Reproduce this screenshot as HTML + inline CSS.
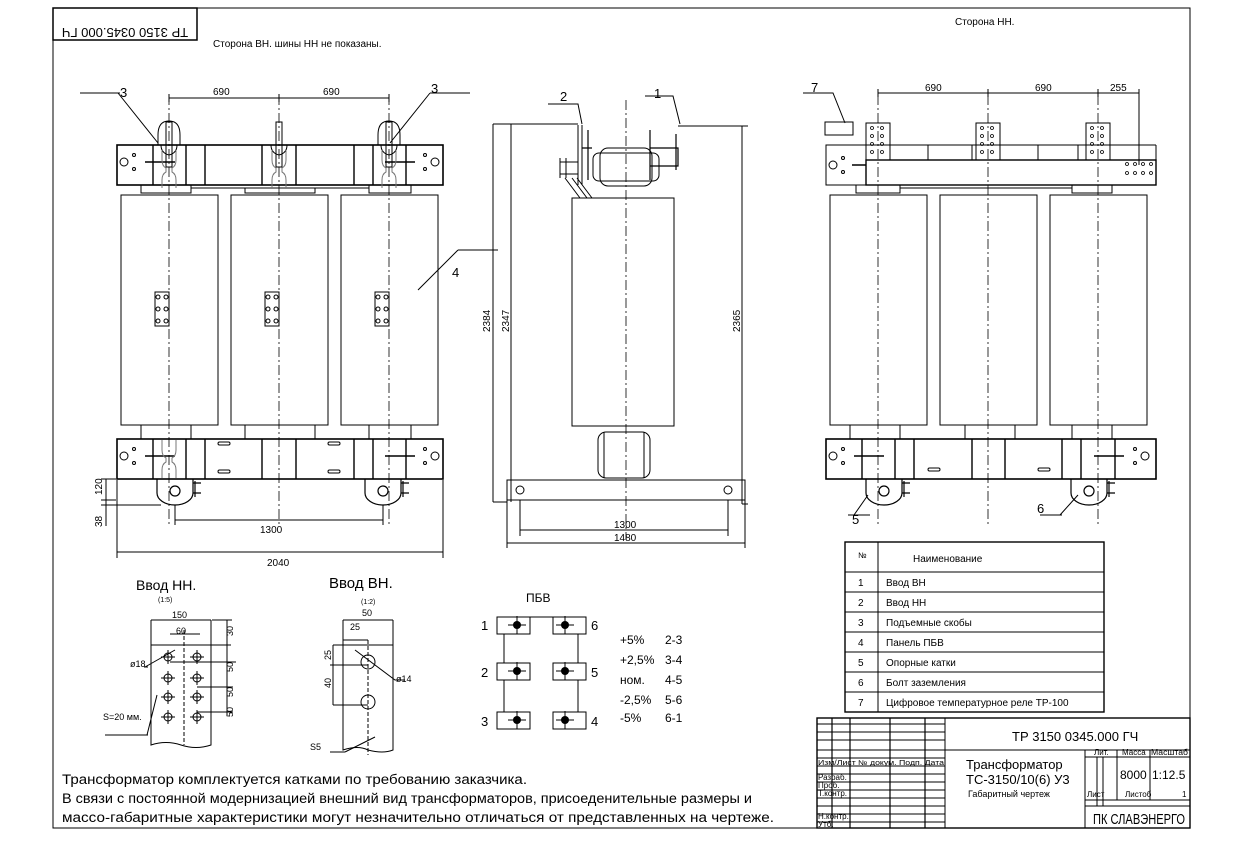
<!DOCTYPE html>
<html><head><meta charset="utf-8"><style>
html,body{margin:0;padding:0;background:#fff}
svg{display:block}
text{font-family:"Liberation Sans","DejaVu Sans",sans-serif;fill:#000}
</style></head><body>
<svg width="1238" height="858" viewBox="0 0 1238 858" xmlns="http://www.w3.org/2000/svg">
<defs>
<g id="coil"><rect x="0" y="0" width="97" height="230" fill="none" stroke="#000" stroke-width="1"/></g>
<g id="pnl">
<rect x="0" y="0" width="14" height="34" fill="none" stroke="#000" stroke-width="1"/>
<circle cx="3" cy="5" r="2" fill="none" stroke="#000"/><circle cx="11" cy="5" r="2" fill="none" stroke="#000"/>
<circle cx="3" cy="17" r="2" fill="none" stroke="#000"/><circle cx="11" cy="17" r="2" fill="none" stroke="#000"/>
<circle cx="3" cy="29" r="2" fill="none" stroke="#000"/><circle cx="11" cy="29" r="2" fill="none" stroke="#000"/>
</g>
<g id="endplate" fill="none" stroke="#000">
<circle cx="0" cy="0" r="4"/><circle cx="10" cy="-7" r="1.5"/><circle cx="10" cy="7" r="1.5"/>
</g>
<g id="endplateR" fill="none" stroke="#000">
<circle cx="0" cy="0" r="4"/><circle cx="-10" cy="-7" r="1.5"/><circle cx="-10" cy="7" r="1.5"/>
</g>
<g id="clamp" fill="none" stroke="#000">
<path d="M-7 40 v-8 q0 -6 4 -8 v-4 q-4 -2 -4 -8 v-10 M7 40 v-8 q0 -6 -4 -8 v-4 q4 -2 4 -8 v-10" stroke="#777"/>
</g>
<g id="wheel" fill="none" stroke="#000" stroke-width="1.2">
<path d="M-18 0 v14 a18 12 0 0 0 36 0 v-14"/><circle cx="0" cy="12" r="5"/><path d="M18 4 h8 M18 14 h8 M20 2 v16"/>
</g>
<g id="hole" fill="none" stroke="#000"><circle r="4"/><path d="M-7 0h14M0 -7v14"/></g>
</defs>

<rect x="53" y="8" width="1137" height="820" fill="none" stroke="#000" stroke-width="1"/>
<rect x="53" y="8" width="144" height="32" fill="none" stroke="#000" stroke-width="1.5"/>
<text x="125" y="24" font-size="13" text-anchor="middle" transform="rotate(180 125 24) translate(0 -4)">ТР 3150 0345.000 ГЧ</text>
<text x="213" y="47" font-size="10">Сторона ВН. шины НН не показаны.</text>
<text x="955" y="25" font-size="10">Сторона НН.</text>

<g stroke="#000" fill="none" stroke-width="1">
<rect x="117" y="145" width="326" height="40" stroke-width="1.6"/>
<path d="M153 145v40M186 145v40M205 145v40M262 145v40M296 145v40M354 145v40M373 145v40M406 145v40" stroke-width="1.4"/>
<path d="M141 185v8h50v-8M191 188h178M369 185v8h42v-8M245 188v5h70v-5"/>
<path d="M145 162h30M385 162h30" stroke-width="1.5"/>
<use href="#endplate" x="124" y="162"/><use href="#endplateR" x="435" y="162"/>
<path d="M158 145v-10q0-14 11-14q11 0 11 14v10M378 145v-10q0-14 11-14q11 0 11 14v10"/>
<rect x="166" y="122" width="6" height="45"/><rect x="276" y="122" width="6" height="45"/><rect x="386" y="122" width="6" height="45"/>
<path d="M161 145q0 8 8 10q8-2 8-10M271 145q0 8 8 10q8-2 8-10M381 145q0 8 8 10q8-2 8-10"/>
<use href="#clamp" x="169" y="148" /><use href="#clamp" x="279" y="148"/><use href="#clamp" x="389" y="148"/>
<use href="#coil" x="121" y="195"/><use href="#coil" x="231" y="195"/><use href="#coil" x="341" y="195"/>
<path d="M141 425v14M191 425v14M245 425v14M315 425v14M369 425v14M411 425v14"/>
<rect x="117" y="439" width="326" height="40" stroke-width="1.6"/>
<path d="M153 439v40M186 439v40M205 439v40M262 439v40M296 439v40M354 439v40M373 439v40M406 439v40" stroke-width="1.4"/>
<path d="M145 456h30M385 456h30" stroke-width="1.5"/>
<use href="#endplate" x="124" y="456"/><use href="#endplateR" x="435" y="456"/>
<rect x="218" y="442" width="12" height="3" rx="1.5"/><rect x="218" y="470" width="12" height="3" rx="1.5"/>
<rect x="328" y="442" width="12" height="3" rx="1.5"/><rect x="328" y="470" width="12" height="3" rx="1.5"/>
<use href="#clamp" x="169" y="438"/>
<use href="#pnl" x="155" y="292"/><use href="#pnl" x="265" y="292"/><use href="#pnl" x="375" y="292"/>
<use href="#wheel" x="175" y="479"/><use href="#wheel" x="383" y="479"/>
<path d="M169 95v430M279 95v430M389 95v430" stroke-dasharray="10 3 2 3" stroke-width="0.8"/>
<path d="M169 98h220M169 94v8M279 94v8M389 94v8"/>
<path d="M175 520h208M175 505v20M383 505v20"/>
<path d="M117 552h326M117 480v78M443 480v78"/>
<path d="M106 479v47M101 479h15M101 500h15M101 505h60"/>
<path d="M118 93l40 50M390 143l40-50M80 93h40M430 93h40M418 290l40-40M458 250h40"/>

<rect x="572" y="198" width="102" height="228"/>
<path d="M493 124h85M511 124h4M493 124v378M511 124v378M493 502h14M678 126h70M742 126v378M742 504h6"/>
<path d="M578 125v60M582 125v60" />
<rect x="600" y="148" width="52" height="38" rx="8"/><rect x="593" y="153" width="66" height="28" rx="6"/>
<path d="M626 100v440" stroke-dasharray="10 3 2 3" stroke-width="0.8"/>
<path d="M588 130v50M650 130v50M592 148h-10M650 148h28v18h-28M676 134v36" stroke-width="1.2"/>
<path d="M560 162h18v12h-18zM560 158v20M566 158v20"/>
<path d="M565 178l15 20M572 178l15 20M577 178l15 20"/>
<rect x="598" y="432" width="52" height="46" rx="8"/><path d="M604 432v46M644 432v46"/>
<rect x="507" y="480" width="238" height="20"/>
<circle cx="520" cy="490" r="4"/><circle cx="728" cy="490" r="4"/>
<path d="M507 500v48M745 500v48M520 530h208M507 543h238M520 500v36M728 500v36"/>
<path d="M548 104h30l4 20M645 96h28l7 28"/>

<rect x="826" y="145" width="40" height="40"/>
<rect x="866" y="160" width="290" height="25" stroke-width="1.4"/>
<path d="M866 145h290M1156 145v15M866 185h290"/>
<path d="M928 145v15M972 145v15M1038 145v15M1078 145v15"/>
<rect x="866" y="123" width="24" height="37"/><rect x="976" y="123" width="24" height="37"/><rect x="1086" y="123" width="24" height="37"/>
<g stroke-width="0.8">
<circle cx="872" cy="128" r="1.5"/><circle cx="882" cy="128" r="1.5"/><circle cx="872" cy="136" r="1.5"/><circle cx="882" cy="136" r="1.5"/><circle cx="872" cy="144" r="1.5"/><circle cx="882" cy="144" r="1.5"/><circle cx="872" cy="152" r="1.5"/><circle cx="882" cy="152" r="1.5"/>
<circle cx="982" cy="128" r="1.5"/><circle cx="992" cy="128" r="1.5"/><circle cx="982" cy="136" r="1.5"/><circle cx="992" cy="136" r="1.5"/><circle cx="982" cy="144" r="1.5"/><circle cx="992" cy="144" r="1.5"/><circle cx="982" cy="152" r="1.5"/><circle cx="992" cy="152" r="1.5"/>
<circle cx="1092" cy="128" r="1.5"/><circle cx="1102" cy="128" r="1.5"/><circle cx="1092" cy="136" r="1.5"/><circle cx="1102" cy="136" r="1.5"/><circle cx="1092" cy="144" r="1.5"/><circle cx="1102" cy="144" r="1.5"/><circle cx="1092" cy="152" r="1.5"/><circle cx="1102" cy="152" r="1.5"/>
<circle cx="1127" cy="164" r="1.5"/><circle cx="1135" cy="164" r="1.5"/><circle cx="1143" cy="164" r="1.5"/><circle cx="1151" cy="164" r="1.5"/>
<circle cx="1127" cy="173" r="1.5"/><circle cx="1135" cy="173" r="1.5"/><circle cx="1143" cy="173" r="1.5"/><circle cx="1151" cy="173" r="1.5"/>
</g>
<rect x="825" y="122" width="28" height="13"/>
<use href="#endplate" x="833" y="165"/><path d="M852 165h14" stroke-width="1.5"/>
<path d="M856 185v8h44v-8M900 188h172M1072 185v8h40v-8"/>
<use href="#coil" x="830" y="195"/><use href="#coil" x="940" y="195"/><use href="#coil" x="1050" y="195"/>
<path d="M850 425v14M900 425v14M965 425v14M1015 425v14M1072 425v14M1112 425v14"/>
<rect x="826" y="439" width="330" height="40" stroke-width="1.6"/>
<path d="M862 439v40M895 439v40M914 439v40M972 439v40M1005 439v40M1062 439v40M1081 439v40M1115 439v40" stroke-width="1.4"/>
<path d="M854 456h30M1094 456h30" stroke-width="1.5"/>
<use href="#endplate" x="833" y="456"/><use href="#endplateR" x="1145" y="456"/>
<rect x="928" y="468" width="12" height="3" rx="1.5"/><rect x="1038" y="468" width="12" height="3" rx="1.5"/>
<use href="#wheel" x="884" y="479"/><use href="#wheel" x="1089" y="479"/>
<path d="M878 95v430M988 95v430M1098 95v430" stroke-dasharray="10 3 2 3" stroke-width="0.8"/>
<path d="M878 93h220M1098 93h41M878 89v8M988 89v8M1098 89v8M1139 89v76"/>
<path d="M803 93h30l12 30M868 495l-14 20M848 515h22M1078 495l-18 20M1040 515h22"/>

<path d="M151 620h60M151 620v125q15-5 30 0q15 5 30 0v-125M151 645h80M170 634h30"/>
<path d="M184 630v115" stroke-dasharray="4 2"/>
<path d="M170 662h66M197 687h36M197 712h36M227 620v95M212 620h20"/>
<use href="#hole" x="168" y="657"/><use href="#hole" x="197" y="657"/><use href="#hole" x="168" y="678"/><use href="#hole" x="197" y="678"/><use href="#hole" x="168" y="697"/><use href="#hole" x="197" y="697"/><use href="#hole" x="168" y="717"/><use href="#hole" x="197" y="717"/>
<path d="M145 667l30-17M148 667h-4M147 735l10-40M105 735h43"/>
<path d="M343 620h50M343 620v130q15-5 25 0q15 4 25 0v-130M343 640h25"/>
<path d="M368 640v115" stroke-dasharray="4 2"/>
<path d="M333 645h60M333 645v60M330 665h38M333 705h35"/>
<circle cx="368" cy="662" r="7"/><circle cx="368" cy="702" r="7"/>
<path d="M355 650l40 30h10M345 752l30-15M330 752h15"/>

<rect x="497" y="617" width="33" height="17"/><rect x="553" y="617" width="33" height="17"/>
<rect x="497" y="663" width="33" height="17"/><rect x="553" y="663" width="33" height="17"/>
<rect x="497" y="712" width="33" height="17"/><rect x="553" y="712" width="33" height="17"/>
<path d="M504 634v29M504 680v32M578 634v29M578 680v32M530 617h23"/>
</g>
<g fill="#000">
<circle cx="517" cy="625" r="4"/><circle cx="565" cy="625" r="4"/><circle cx="517" cy="671" r="4"/><circle cx="565" cy="671" r="4"/><circle cx="517" cy="720" r="4"/><circle cx="565" cy="720" r="4"/>
</g>
<g stroke="#000" stroke-width="1"><path d="M508 625h18M517 616v18M556 625h18M565 616v18M508 671h18M517 662v18M556 671h18M565 662v18M508 720h18M517 711v18M556 720h18M565 711v18"/></g>

<g font-size="10">
<text x="213" y="95">690</text><text x="323" y="95">690</text>
<text x="120" y="97" font-size="13">3</text><text x="431" y="93" font-size="13">3</text>
<text x="452" y="277" font-size="13">4</text>
<text x="260" y="533">1300</text><text x="267" y="566">2040</text>
<text transform="translate(102 495) rotate(-90)">120</text>
<text transform="translate(102 527) rotate(-90)">38</text>
<text x="560" y="101" font-size="13">2</text><text x="654" y="98" font-size="13">1</text>
<text transform="translate(490 332) rotate(-90)">2384</text>
<text transform="translate(509 332) rotate(-90)">2347</text>
<text transform="translate(740 332) rotate(-90)">2365</text>
<text x="614" y="528">1300</text><text x="614" y="541">1480</text>
<text x="925" y="91">690</text><text x="1035" y="91">690</text><text x="1110" y="91">255</text>
<text x="811" y="92" font-size="13">7</text>
<text x="852" y="524" font-size="13">5</text><text x="1037" y="513" font-size="13">6</text>
</g>
<text x="136" y="590" font-size="14">Ввод НН.</text><text x="158" y="602" font-size="7">(1:5)</text>
<text x="329" y="588" font-size="15">Ввод ВН.</text><text x="361" y="604" font-size="7">(1:2)</text>
<g font-size="9">
<text x="172" y="618">150</text><text x="176" y="634">60</text>
<text x="130" y="667">ø18</text><text x="103" y="720">S=20 мм.</text>
<text x="362" y="616">50</text><text x="350" y="630">25</text>
<text x="396" y="682">ø14</text><text x="310" y="750">S5</text>
<text transform="translate(233 636) rotate(-90)">30</text>
<text transform="translate(233 672) rotate(-90)">50</text>
<text transform="translate(233 697) rotate(-90)">50</text>
<text transform="translate(233 717) rotate(-90)">50</text>
<text transform="translate(331 660) rotate(-90)">25</text>
<text transform="translate(331 688) rotate(-90)">40</text>
</g>
<text x="526" y="602" font-size="12">ПБВ</text>
<g font-size="13"><text x="481" y="630">1</text><text x="591" y="630">6</text><text x="481" y="677">2</text><text x="591" y="677">5</text><text x="481" y="726">3</text><text x="591" y="726">4</text></g>
<g font-size="12">
<text x="620" y="644">+5%</text><text x="665" y="644">2-3</text>
<text x="620" y="664">+2,5%</text><text x="665" y="664">3-4</text>
<text x="620" y="684">ном.</text><text x="665" y="684">4-5</text>
<text x="620" y="704">-2,5%</text><text x="665" y="704">5-6</text>
<text x="620" y="722">-5%</text><text x="665" y="722">6-1</text>
</g>

<g stroke="#000" fill="none" stroke-width="1">
<rect x="845" y="542" width="259" height="170" stroke-width="1.4"/>
<path d="M878 542v170M845 572h259M845 592h259M845 612h259M845 632h259M845 652h259M845 672h259M845 692h259"/>
</g>
<g font-size="10">
<text x="858" y="558" font-size="8">№</text><text x="913" y="562">Наименование</text>
<text x="858" y="586">1</text><text x="886" y="586">Ввод ВН</text>
<text x="858" y="606">2</text><text x="886" y="606">Ввод НН</text>
<text x="858" y="626">3</text><text x="886" y="626">Подъемные скобы</text>
<text x="858" y="646">4</text><text x="886" y="646">Панель ПБВ</text>
<text x="858" y="666">5</text><text x="886" y="666">Опорные катки</text>
<text x="858" y="686">6</text><text x="886" y="686">Болт заземления</text>
<text x="858" y="706">7</text><text x="886" y="706">Цифровое температурное реле ТР-100</text>
</g>

<g stroke="#000" fill="none" stroke-width="1">
<rect x="817" y="718" width="373" height="110" stroke-width="1.4"/>
<path d="M945 718v110M1085 750v78M945 750h245M1085 806h105M1097 757v49M1103 757v49M1117 750v50M1150 750v50M1085 757h105M1085 800h105" />
<path d="M832 718v110M850 718v110M890 718v110M925 718v110" stroke-width="1.2"/>
<path d="M817 724h128M817 732h128M817 740h128M817 750h128M817 758h128M817 766h128M817 774h128M817 782h128M817 790h128M817 798h128M817 806h128M817 814h128M817 822h128"/>
</g>
<g font-size="8"><text x="818" y="765" font-size="7" textLength="126" lengthAdjust="spacingAndGlyphs">Изм/Лист № докум. Подп. Дата</text>
<text x="818" y="780">Разраб.</text><text x="818" y="788">Проб.</text><text x="818" y="796">Т.контр.</text>
<text x="818" y="819">Н.контр.</text><text x="818" y="827">Утб.</text>
<text x="1094" y="755">Лит.</text><text x="1122" y="755">Масса</text><text x="1151" y="755" textLength="37" lengthAdjust="spacingAndGlyphs">Масштаб</text>
<text x="1087" y="797">Лист</text><text x="1125" y="797">Листоб</text><text x="1182" y="797">1</text></g>
<text x="1012" y="741" font-size="13">ТР 3150 0345.000 ГЧ</text>
<text x="966" y="769" font-size="13">Трансформатор</text>
<text x="966" y="784" font-size="13">ТС-3150/10(6) У3</text>
<text x="968" y="797" font-size="9">Габаритный чертеж</text>
<text x="1120" y="779" font-size="12">8000</text><text x="1152" y="779" font-size="12">1:12.5</text>
<text x="1093" y="824" font-size="15" textLength="92" lengthAdjust="spacingAndGlyphs">ПК СЛАВЭНЕРГО</text>

<g font-size="13.5">
<text x="62" y="784" textLength="465" lengthAdjust="spacingAndGlyphs">Трансформатор комплектуется катками по требованию заказчика.</text>
<text x="62" y="803" textLength="690" lengthAdjust="spacingAndGlyphs">В связи с постоянной модернизацией внешний вид трансформаторов, присоеденительные размеры и</text>
<text x="62" y="822" textLength="712" lengthAdjust="spacingAndGlyphs">массо-габаритные характеристики могут незначительно отличаться от представленных на чертеже.</text>
</g>
</svg>
</body></html>
